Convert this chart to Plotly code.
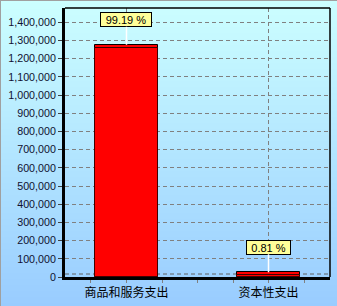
import base64, struct, zlib
import plotly.graph_objects as go

categories = ["商品和服务支出", "资本性支出"]
values = [1260000, 10290]
y_ticks = list(range(0, 1400001, 100000))

W, H = 337, 306
ML, MR, MT, MB = 65, 7, 8, 29
PW, PH = W - ML - MR, H - MT - MB
Y_MAX = 1478000
depth = 3 * Y_MAX / PH  # 3D top-face depth in data units

total = sum(values)
pct = [f"{v / total * 100:.2f} %" for v in values]


def gradient_png(h, top, bot):
    rows = b""
    for i in range(h):
        t = i / (h - 1)
        rows += b"\x00" + bytes(round(a + (b - a) * t) for a, b in zip(top, bot))

    def chunk(tag, data):
        c = struct.pack(">I", len(data)) + tag + data
        return c + struct.pack(">I", zlib.crc32(tag + data) & 0xffffffff)

    png = b"\x89PNG\r\n\x1a\n"
    png += chunk(b"IHDR", struct.pack(">IIBBBBB", 1, h, 8, 2, 0, 0, 0))
    png += chunk(b"IDAT", zlib.compress(rows))
    png += chunk(b"IEND", b"")
    return "data:image/png;base64," + base64.b64encode(png).decode()


xs = list(range(len(categories)))
fig = go.Figure()
fig.add_trace(go.Bar(
    x=xs, y=[v + depth for v in values], width=0.437,
    marker=dict(color="#FF0000", line=dict(color="#000000", width=1)),
    hoverinfo="skip", showlegend=False))
fig.add_trace(go.Bar(
    x=xs, y=values, width=0.437,
    marker=dict(color="#FF0000", line=dict(color="#400000", width=1)),
    showlegend=False))

widths = [48, 41]
for i, v in enumerate(values):
    fig.add_annotation(
        x=xs[i], y=v + depth, text=pct[i], showarrow=True,
        arrowhead=0, arrowcolor="#FFFFFF", arrowwidth=1.5,
        ax=0, ay=-25, bgcolor="#FFFF99", bordercolor="#000000",
        borderwidth=1, borderpad=1, width=widths[i], height=11,
        font=dict(family="Liberation Sans, Arial", size=11, color="#000000"))

fig.add_layout_image(
    source=gradient_png(H, (204, 255, 255), (153, 204, 255)),
    xref="paper", yref="paper", x=-ML / PW, y=1 + MT / PH,
    sizex=W / PW, sizey=H / PH, xanchor="left", yanchor="top",
    sizing="stretch", layer="below")

# outer gray border (top, left)
fig.add_shape(type="line", xref="paper", yref="paper",
              x0=-ML / PW, x1=(W - ML) / PW, y0=1 + (MT - 0.5) / PH, y1=1 + (MT - 0.5) / PH,
              line=dict(color="#A0A0A0", width=1))
fig.add_shape(type="line", xref="paper", yref="paper",
              x0=-(ML - 0.5) / PW, x1=-(ML - 0.5) / PW, y0=-MB / PH, y1=1 + MT / PH,
              line=dict(color="#A0A0A0", width=1))
# plot frame (top, right)
fig.add_shape(type="line", xref="paper", yref="paper", x0=0, x1=1, y0=1, y1=1,
              line=dict(color="#000000", width=1.5))
fig.add_shape(type="line", xref="paper", yref="paper", x0=1, x1=1, y0=0, y1=1,
              line=dict(color="#000000", width=1.5))
# 3D floor dashed line
fig.add_shape(type="line", xref="paper", yref="paper", x0=0, x1=1,
              y0=3 / PH, y1=3 / PH, layer="below",
              line=dict(color="#606060", width=1, dash="4px,3px"))

fig.update_layout(
    width=W, height=H, margin=dict(l=ML, r=MR, t=MT, b=MB, pad=0),
    paper_bgcolor="rgba(0,0,0,0)", plot_bgcolor="rgba(0,0,0,0)",
    barmode="overlay", bargap=0,
    font=dict(family="Liberation Sans, Arial", size=11, color="#000000"),
    xaxis=dict(
        range=[-0.433, 1.433], tickmode="array", tickvals=xs, ticktext=categories,
        showgrid=True, gridcolor="#808080", griddash="4px,3px", gridwidth=1,
        showline=True, linecolor="#000000", linewidth=3,
        ticks="outside", ticklen=3, tickcolor="#808080",
        minor=dict(tick0=0, dtick=0.25, ticks="outside", ticklen=3, tickcolor="#808080"),
        tickfont=dict(family="Noto Sans CJK SC", size=12, color="#000000"),
        fixedrange=True, zeroline=False),
    yaxis=dict(
        range=[0, Y_MAX], tickmode="array", tickvals=y_ticks,
        ticktext=[f"{t:,}" for t in y_ticks],
        showgrid=True, gridcolor="#808080", griddash="4px,3px", gridwidth=1,
        showline=True, linecolor="#000000", linewidth=3,
        ticks="outside", ticklen=4, tickcolor="#404040",
        tickfont=dict(family="Liberation Sans, Arial", size=10.7, color="#101030"),
        zeroline=False, fixedrange=True),
)

fig.write_html("out.html")
